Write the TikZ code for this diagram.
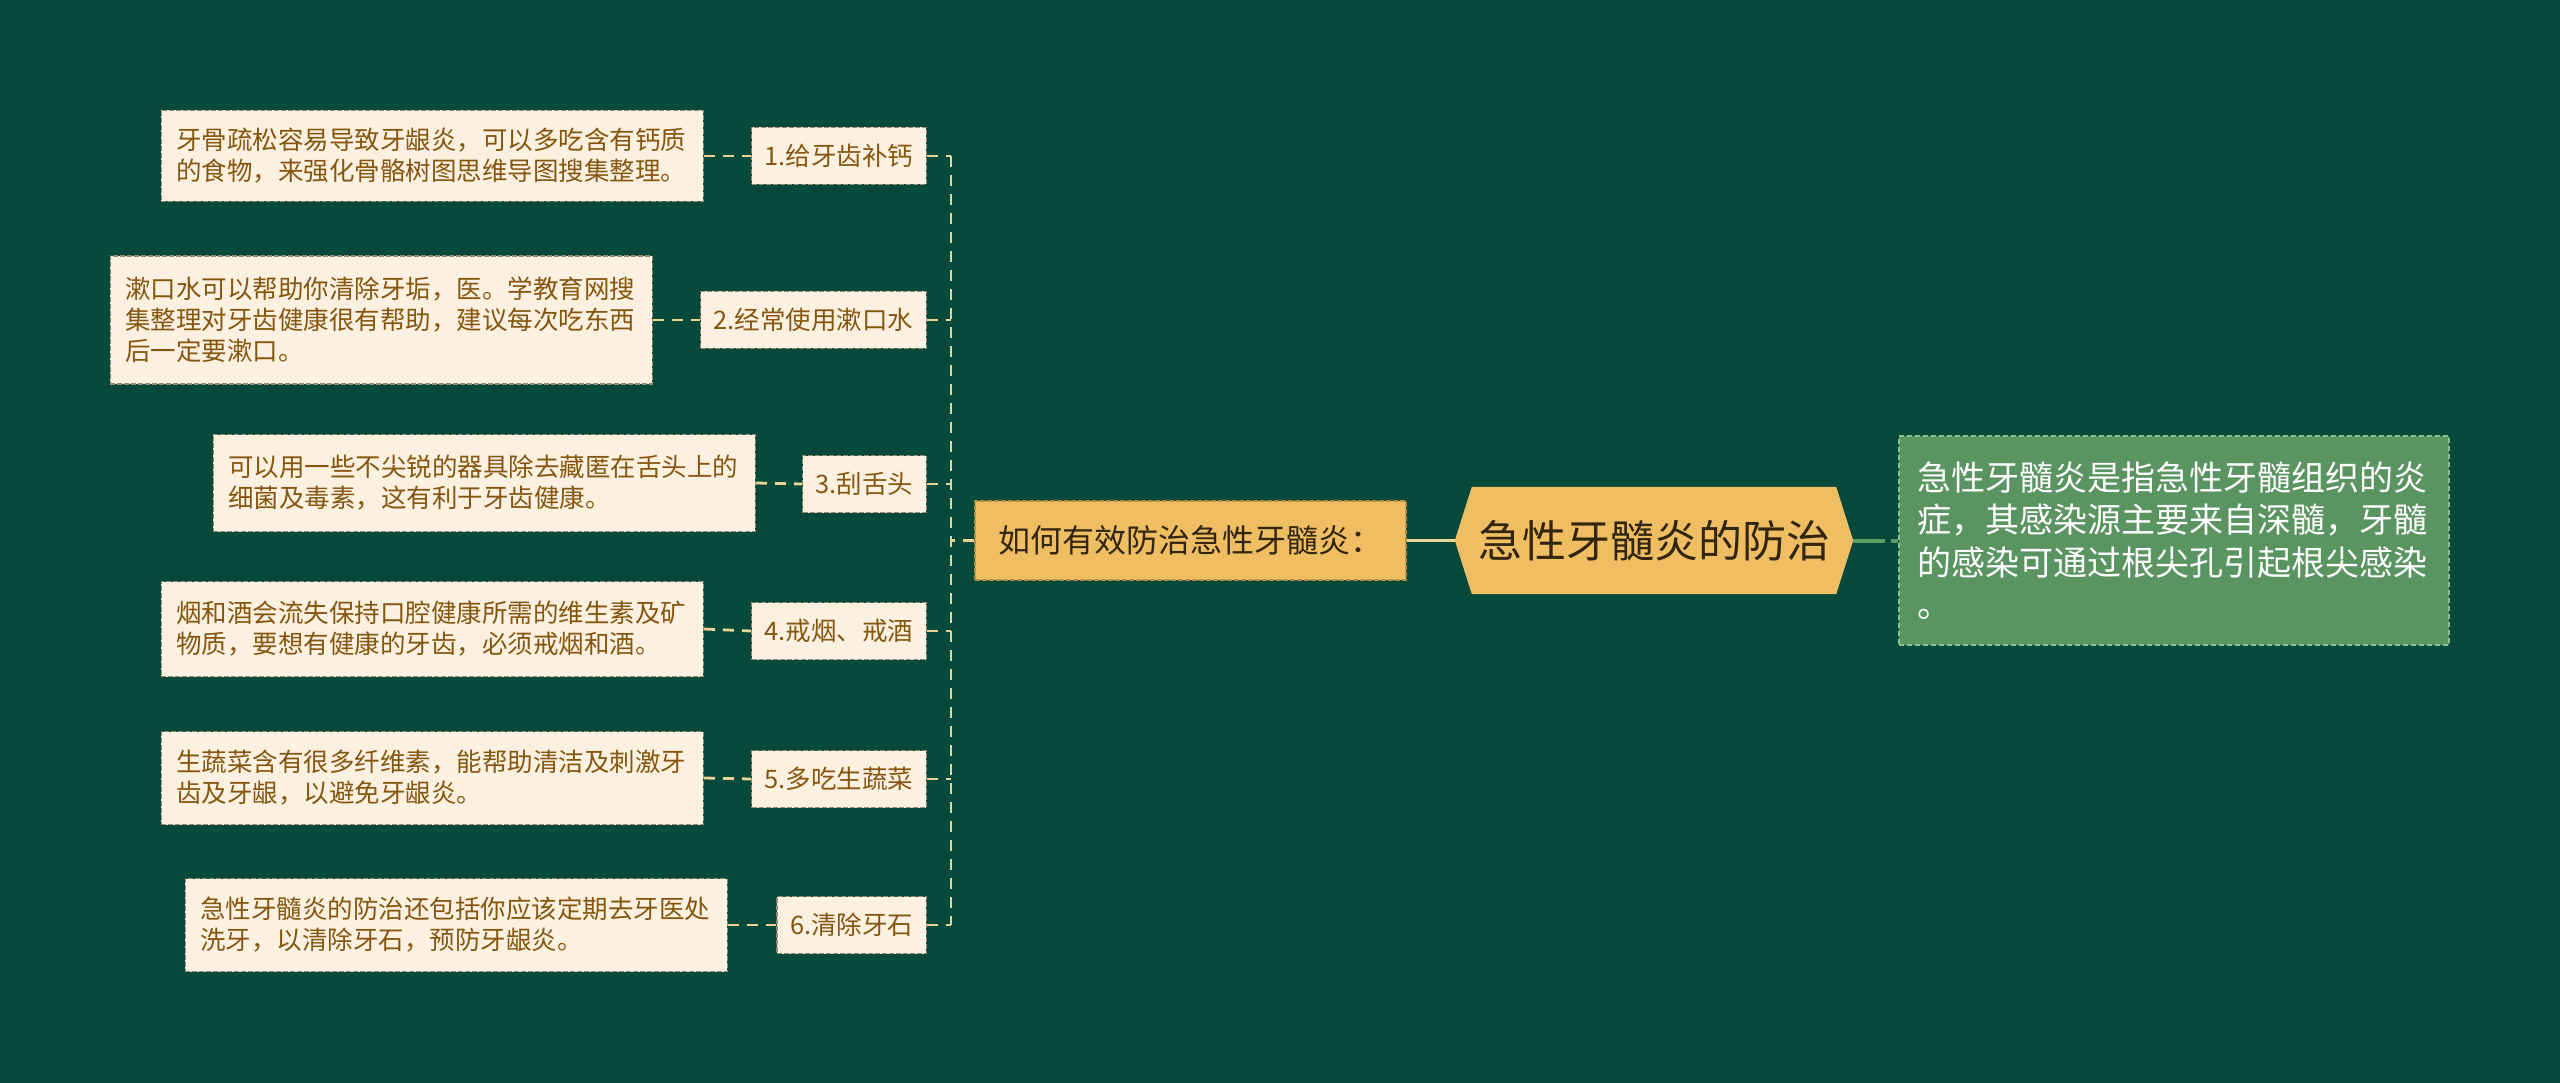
\documentclass[tikz,border=0pt]{standalone}
\usepackage{fontspec}
\setmainfont{Noto Sans CJK SC}
\definecolor{bgc}{HTML}{07493A}
\definecolor{cream}{HTML}{FCF1E0}
\definecolor{creamb}{HTML}{958B74}
\definecolor{brownt}{HTML}{85560F}
\definecolor{gold}{HTML}{EFBE62}
\definecolor{goldb}{HTML}{B88D40}
\definecolor{darkt}{HTML}{33260F}
\definecolor{gbox}{HTML}{5A9461}
\definecolor{gboxb}{HTML}{8FBE92}
\definecolor{gline}{HTML}{5E9C66}
\definecolor{conn}{HTML}{E6D596}
\tikzset{
  leafbox/.style={fill=cream, draw=creamb, line width=1.5pt, dash pattern=on 5pt off 2pt,
    text=brownt, align=left, text width=512pt, inner xsep=15pt, anchor=east,
    font=\fontsize{25.5}{31}\selectfont},
  labelbox/.style={fill=cream, draw=creamb, line width=1.5pt, dash pattern=on 5pt off 2pt,
    text=brownt, inner xsep=13pt, minimum height=57pt, anchor=east,
    font=\fontsize{25.5}{31}\selectfont},
  midbox/.style={fill=gold, draw=goldb, line width=1.5pt, dash pattern=on 5pt off 2pt,
    text=darkt, minimum width=431pt, minimum height=79pt,
    font=\fontsize{32}{38}\selectfont},
  rootbox/.style={text=darkt, minimum width=398pt, minimum height=107pt,
    font=\fontsize{44}{50}\selectfont},
  rightbox/.style={fill=gbox, draw=gboxb, line width=1.5pt, dash pattern=on 5pt off 3pt,
    text=white, align=left, text width=514pt, inner xsep=18pt, minimum height=209pt,
    font=\fontsize{34}{42.5}\selectfont},
  connline/.style={draw=conn, line width=2.8pt, dash pattern=on 11pt off 8pt},
}
\begin{document}
\begin{tikzpicture}[x=1pt,y=-1pt]
\fill[bgc] (0,0) rectangle (2560,1083);
\useasboundingbox (0,0) rectangle (2560,1083);

% spine
\coordinate (sTop) at (951,156);
\coordinate (sBot) at (951,925);

% labels
\node[labelbox] (l1) at (927,156) {1.给牙齿补钙};
\node[labelbox] (l2) at (927,320) {2.经常使用漱口水};
\node[labelbox] (l3) at (927,484) {3.刮舌头};
\node[labelbox] (l4) at (927,631) {4.戒烟、戒酒};
\node[labelbox] (l5) at (927,779) {5.多吃生蔬菜};
\node[labelbox] (l6) at (927,925) {6.清除牙石};

% leaves
\node[leafbox, minimum height=91pt] (n1) at (704,156) {牙骨疏松容易导致牙龈炎，可以多吃含有钙质\\的食物，来强化骨骼树图思维导图搜集整理。};
\node[leafbox, minimum height=128pt] (n2) at (653,320) {漱口水可以帮助你清除牙垢，医。学教育网搜\\集整理对牙齿健康很有帮助，建议每次吃东西\\后一定要漱口。};
\node[leafbox, minimum height=97pt] (n3) at (756,483) {可以用一些不尖锐的器具除去藏匿在舌头上的\\细菌及毒素，这有利于牙齿健康。};
\node[leafbox, minimum height=95pt] (n4) at (704,629) {烟和酒会流失保持口腔健康所需的维生素及矿\\物质，要想有健康的牙齿，必须戒烟和酒。};
\node[leafbox, minimum height=93pt] (n5) at (704,778) {生蔬菜含有很多纤维素，能帮助清洁及刺激牙\\齿及牙龈，以避免牙龈炎。};
\node[leafbox, minimum height=93pt] (n6) at (728,925) {急性牙髓炎的防治还包括你应该定期去牙医处\\洗牙，以清除牙石，预防牙龈炎。};

% middle, root, right
\node[midbox] (mid) at (1190.5,540.5) {如何有效防治急性牙髓炎：};
\node[rootbox] (root) at (1654,540.5) {};
\fill[gold] ([xshift=17pt]root.north west) -- ([xshift=-17pt]root.north east) -- (root.east)
  -- ([xshift=-17pt]root.south east) -- ([xshift=17pt]root.south west) -- (root.west) -- cycle;
\node[text=darkt, font=\fontsize{44}{50}\selectfont] at (root.center) {急性牙髓炎的防治};
\node[rightbox] (right) at (2174,540.5) {急性牙髓炎是指急性牙髓组织的炎\\症，其感染源主要来自深髓，牙髓\\的感染可通过根尖孔引起根尖感染\\。};

% connectors
\draw[connline] (sTop) -- (sBot);
\foreach \i in {1,...,6} {
  \draw[connline] (n\i.east) -- (l\i.west);
  \draw[connline] (l\i.east) -- (l\i.east -| sTop);
}
\draw[connline] (mid.west) -- (mid.west -| sTop);
\draw[conn, line width=3.5pt] (mid.east) -- (root.west);
\draw[gline, line width=4pt, dash pattern=on 32pt off 6pt] (root.east) -- (right.west);
\end{tikzpicture}
\end{document}
